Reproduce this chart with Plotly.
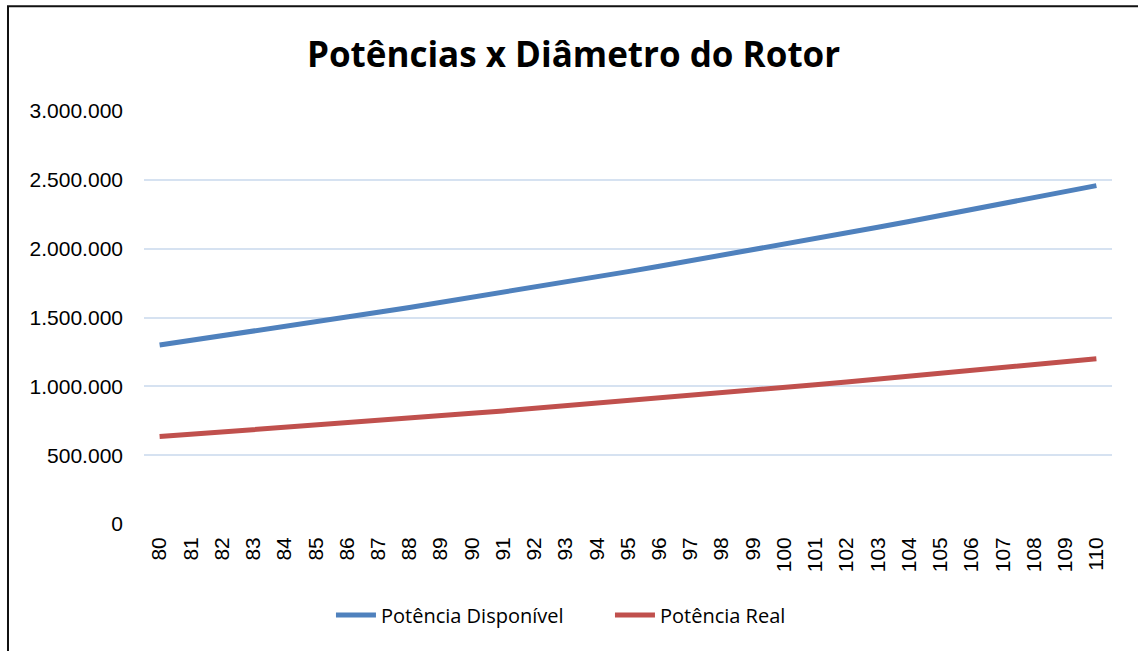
import plotly.graph_objects as go

# Rotor diameter (m)
diametros = [80, 81, 82, 83, 84, 85, 86, 87, 88, 89, 90, 91, 92, 93, 94, 95,
             96, 97, 98, 99, 100, 101, 102, 103, 104, 105, 106, 107, 108, 109, 110]

# Available power (W)
potencia_disponivel = [1300000, 1332700, 1365800, 1399300, 1433300, 1467600, 1502300,
                       1537500, 1573000, 1609000, 1645300, 1682100, 1719300, 1756800,
                       1794800, 1833200, 1872000, 1911200, 1950800, 1990800, 2031300,
                       2072100, 2113300, 2155000, 2197000, 2239500, 2282300, 2325600,
                       2369300, 2413300, 2457800]

# Real power (W)
potencia_real = [635000, 651000, 667100, 683500, 700100, 716900, 733800, 751000,
                 768400, 785900, 803700, 821600, 839800, 858100, 876700, 895400,
                 914400, 933500, 952900, 972500, 992200, 1012100, 1032300, 1052600,
                 1073100, 1093900, 1114800, 1136000, 1157300, 1178900, 1200500]

categorias = [str(d) for d in diametros]

fig = go.Figure()
fig.add_trace(go.Scatter(x=categorias, y=potencia_disponivel, mode="lines",
                         name="Potência Disponível",
                         line=dict(color="#4F81BD", width=5)))
fig.add_trace(go.Scatter(x=categorias, y=potencia_real, mode="lines",
                         name="Potência Real",
                         line=dict(color="#C0504D", width=5)))

# Outer chart border (left and top edges visible)
fig.add_shape(type="rect", xref="paper", yref="paper",
              x0=-0.1405, x1=1.03, y0=-0.33, y1=1.2535,
              line=dict(color="#111111", width=2), layer="above")

fig.update_layout(
    width=1138, height=651,
    margin=dict(l=144, r=26, t=111, b=127),
    paper_bgcolor="white", plot_bgcolor="white",
    separators=",.",
    font=dict(family="Liberation Sans, Arial, sans-serif", size=21, color="#000000"),
    title=dict(text="<b>Potências x Diâmetro do Rotor</b>",
               font=dict(family="Open Sans, sans-serif", size=35, color="#000000"),
               x=0.504, xanchor="center", xref="container",
               y=1 - 55 / 651, yanchor="middle", yref="container"),
    showlegend=True,
    legend=dict(orientation="h", xref="container", yref="container",
                x=0.536, xanchor="center", y=1 - 615 / 651, yanchor="middle",
                font=dict(family="Open Sans, sans-serif", size=20),
                itemwidth=40, tracegroupgap=0, entrywidth=224),
    xaxis=dict(type="category", range=[-0.5, 30.5], tickangle=-90,
               showgrid=False, showline=False, zeroline=False,
               ticks="", ticklabelstandoff=8,
               tickfont=dict(family="Liberation Sans, Arial, sans-serif", size=21)),
    yaxis=dict(range=[0, 3000000], tickvals=[0, 500000, 1000000, 1500000, 2000000, 2500000, 3000000],
               tickformat=",.0f", showgrid=True, gridcolor="#D6E2F1", gridwidth=1.5,
               zeroline=False, showline=False, ticks="", ticklabelstandoff=20,
               tickfont=dict(family="Liberation Sans, Arial, sans-serif", size=21)),
)

fig.write_html("out.html")
